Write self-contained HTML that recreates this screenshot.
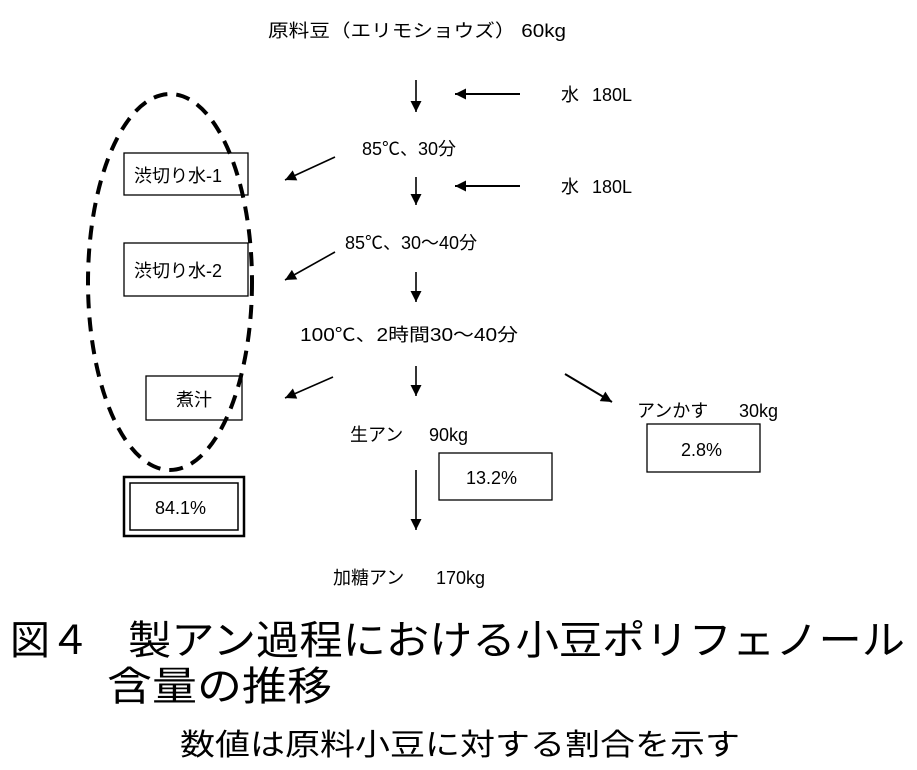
<!DOCTYPE html>
<html><head><meta charset="utf-8"><style>
html,body{margin:0;padding:0;background:#fff;}
svg text{font-family:"Liberation Sans","Noto Sans CJK JP",sans-serif;fill:#000;}
</style></head><body>
<svg width="917" height="765" viewBox="0 0 917 765" xmlns="http://www.w3.org/2000/svg">
<defs>
<marker id="a" viewBox="0 0 10 10" refX="10" refY="5" markerWidth="12" markerHeight="11" markerUnits="userSpaceOnUse" orient="auto"><path d="M0,0 L10,5 L0,10 z" fill="#000"/></marker>
</defs>
<g font-size="18">
<text x="268" y="37" textLength="298" lengthAdjust="spacingAndGlyphs">原料豆（エリモショウズ） 60kg</text>
<text x="561" y="101">水</text><text x="592" y="101">180L</text>
<text x="561" y="193">水</text><text x="592" y="193">180L</text>
<text x="362" y="155">85℃、30分</text>
<text x="345" y="249">85℃、30～40分</text>
<text x="300" y="341" textLength="218" lengthAdjust="spacingAndGlyphs">100℃、2時間30～40分</text>
<text x="350" y="441">生アン</text><text x="429" y="441">90kg</text>
<text x="637" y="417">アンかす</text><text x="739" y="417">30kg</text>
<text x="333" y="584">加糖アン</text><text x="436" y="584">170kg</text>
<text x="134" y="182">渋切り水-1</text>
<text x="134" y="277">渋切り水-2</text>
<text x="176" y="406">煮汁</text>
<text x="155" y="514">84.1%</text>
<text x="466" y="484">13.2%</text>
<text x="681" y="456">2.8%</text>
</g>
<g fill="none" stroke="#000" stroke-width="1.3">
<rect x="124" y="153" width="124" height="42"/>
<rect x="124" y="243" width="124" height="53"/>
<rect x="146" y="376" width="96" height="44"/>
<rect x="439" y="453" width="113" height="47"/>
<rect x="647" y="424" width="113" height="48"/>
<rect x="124" y="477" width="120" height="59" stroke-width="2.5"/>
<rect x="130" y="483" width="108" height="47" stroke-width="1.5"/>
</g>
<ellipse cx="170" cy="282" rx="82" ry="188" fill="none" stroke="#000" stroke-width="4" stroke-dasharray="14,9"/>
<g stroke="#000" stroke-width="1.6" marker-end="url(#a)">
<line x1="416" y1="80" x2="416" y2="112"/>
<line x1="416" y1="177" x2="416" y2="205"/>
<line x1="416" y1="272" x2="416" y2="302"/>
<line x1="416" y1="366" x2="416" y2="396"/>
<line x1="416" y1="470" x2="416" y2="530"/>
<line x1="520" y1="94" x2="455" y2="94" stroke-width="2"/>
<line x1="520" y1="186" x2="455" y2="186" stroke-width="2"/>
<line x1="335" y1="157" x2="285" y2="180"/>
<line x1="335" y1="252" x2="285" y2="280"/>
<line x1="333" y1="377" x2="285" y2="398"/>
<line x1="565" y1="374" x2="612" y2="402" stroke-width="2"/>
</g>
<text x="10" y="654" font-size="40" textLength="80" lengthAdjust="spacingAndGlyphs">図４</text>
<text x="128" y="654" font-size="40" textLength="777" lengthAdjust="spacingAndGlyphs">製アン過程における小豆ポリフェノール</text>
<text x="107" y="700" font-size="40" textLength="225" lengthAdjust="spacingAndGlyphs">含量の推移</text>
<text x="180" y="755" font-size="30" textLength="560" lengthAdjust="spacingAndGlyphs">数値は原料小豆に対する割合を示す</text>
</svg>
</body></html>
